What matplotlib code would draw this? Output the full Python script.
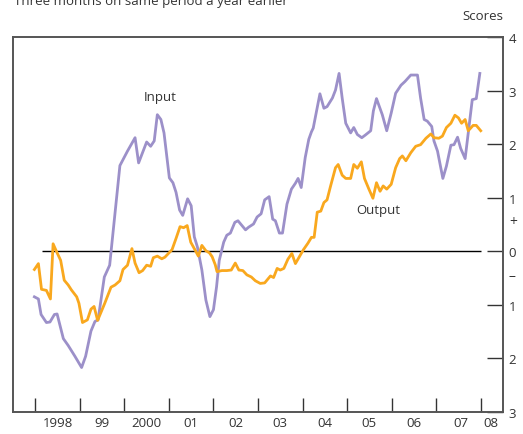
import matplotlib
matplotlib.use('Agg')
import matplotlib.pyplot as plt
import matplotlib.transforms as mtransforms

plt.rcParams['font.family'] = ['Open Sans', 'DejaVu Sans']

# Input series (decimal years, score)
input_t = [1997.98, 1998.07, 1998.13, 1998.25, 1998.33, 1998.43, 1998.49, 1998.63, 1998.74,
           1998.89, 1999.04, 1999.13, 1999.25, 1999.34, 1999.41, 1999.55, 1999.67, 1999.90,
           2000.07, 2000.24, 2000.32, 2000.50, 2000.59, 2000.67, 2000.74, 2000.82, 2000.89,
           2001.01, 2001.09, 2001.16, 2001.24, 2001.31, 2001.42, 2001.50, 2001.57, 2001.64,
           2001.74, 2001.83, 2001.92, 2002.00, 2002.07, 2002.13, 2002.23, 2002.30, 2002.38,
           2002.48, 2002.55, 2002.72, 2002.79, 2002.90, 2002.98, 2003.07, 2003.15, 2003.25,
           2003.33, 2003.39, 2003.48, 2003.55, 2003.65, 2003.75, 2003.84, 2003.90, 2003.97,
           2004.06, 2004.14, 2004.20, 2004.24, 2004.39, 2004.48, 2004.55, 2004.67, 2004.74,
           2004.82, 2004.89, 2004.97, 2005.08, 2005.15, 2005.23, 2005.33, 2005.41, 2005.53,
           2005.59, 2005.66, 2005.79, 2005.89, 2005.99, 2006.09, 2006.21, 2006.30, 2006.43,
           2006.58, 2006.65, 2006.73, 2006.80, 2006.90, 2006.95, 2007.03, 2007.15, 2007.23,
           2007.33, 2007.40, 2007.48, 2007.55, 2007.65, 2007.72, 2007.81, 2007.90, 2007.98]
input_v = [-0.85, -0.89, -1.18, -1.33, -1.32, -1.18, -1.17, -1.63, -1.76,
           -1.96, -2.17, -1.96, -1.49, -1.31, -1.28, -0.48, -0.26, 1.60,
           1.87, 2.12, 1.65, 2.04, 1.96, 2.06, 2.55, 2.46, 2.21,
           1.37, 1.28, 1.10, 0.77, 0.67, 0.98, 0.85, 0.27, 0.08,
           -0.35, -0.91, -1.22, -1.09, -0.66, -0.17, 0.17, 0.30, 0.34,
           0.54, 0.57, 0.40, 0.45, 0.51, 0.64, 0.70, 0.96, 1.02,
           0.60, 0.57, 0.34, 0.34, 0.88, 1.16, 1.27, 1.36, 1.19,
           1.75, 2.09, 2.23, 2.30, 2.94, 2.67, 2.70, 2.86, 3.01,
           3.32, 2.86, 2.39, 2.21, 2.31, 2.18, 2.12, 2.17, 2.25,
           2.62, 2.85, 2.55, 2.25, 2.58, 2.95, 3.10, 3.17, 3.29,
           3.29, 2.86, 2.46, 2.43, 2.33, 2.06, 1.87, 1.36, 1.59,
           1.98, 1.99, 2.13, 1.92, 1.73, 2.21, 2.83, 2.85, 3.32]

# Output series (decimal years, score)
output_t = [1997.98, 1998.07, 1998.14, 1998.25, 1998.34, 1998.40, 1998.48, 1998.57, 1998.65,
            1998.74, 1998.81, 1998.93, 1998.98, 1999.06, 1999.17, 1999.25, 1999.32, 1999.40,
            1999.47, 1999.56, 1999.70, 1999.79, 1999.90, 1999.97, 2000.07, 2000.17, 2000.24,
            2000.33, 2000.41, 2000.50, 2000.59, 2000.65, 2000.74, 2000.84, 2000.91, 2001.07,
            2001.16, 2001.25, 2001.33, 2001.41, 2001.49, 2001.59, 2001.66, 2001.74, 2001.83,
            2001.91, 2001.97, 2002.04, 2002.08, 2002.19, 2002.30, 2002.40, 2002.49, 2002.57,
            2002.66, 2002.75, 2002.85, 2002.94, 2003.05, 2003.15, 2003.28, 2003.35, 2003.43,
            2003.50, 2003.58, 2003.67, 2003.76, 2003.84, 2003.93, 2004.02, 2004.12, 2004.20,
            2004.26, 2004.33, 2004.41, 2004.48, 2004.55, 2004.63, 2004.74, 2004.80, 2004.89,
            2004.97, 2005.08, 2005.15, 2005.23, 2005.32, 2005.39, 2005.49, 2005.58, 2005.66,
            2005.74, 2005.81, 2005.89, 2005.99, 2006.09, 2006.18, 2006.24, 2006.32, 2006.43,
            2006.54, 2006.65, 2006.77, 2006.88, 2006.95, 2007.06, 2007.14, 2007.23, 2007.33,
            2007.42, 2007.50, 2007.57, 2007.65, 2007.72, 2007.83, 2007.90, 2008.00]
output_v = [-0.34, -0.23, -0.71, -0.73, -0.89, 0.14, -0.01, -0.17, -0.54,
            -0.63, -0.72, -0.85, -0.97, -1.33, -1.28, -1.08, -1.03, -1.29,
            -1.15, -0.97, -0.67, -0.63, -0.55, -0.34, -0.26, 0.05, -0.22,
            -0.40, -0.36, -0.26, -0.28, -0.12, -0.09, -0.14, -0.11, 0.03,
            0.24, 0.46, 0.44, 0.48, 0.17, 0.02, -0.09, 0.11, 0.01,
            -0.03, -0.10, -0.25, -0.38, -0.36, -0.36, -0.35, -0.22, -0.35,
            -0.36, -0.44, -0.48, -0.55, -0.60, -0.59, -0.46, -0.49, -0.32,
            -0.35, -0.32, -0.15, -0.04, -0.23, -0.10, 0.03, 0.15, 0.26,
            0.26, 0.73, 0.75, 0.91, 0.96, 1.22, 1.56, 1.62, 1.42,
            1.36, 1.36, 1.62, 1.55, 1.67, 1.36, 1.16, 0.99, 1.28,
            1.12, 1.22, 1.16, 1.25, 1.56, 1.73, 1.78, 1.69, 1.84,
            1.96, 1.99, 2.11, 2.19, 2.12, 2.11, 2.15, 2.31, 2.39,
            2.54, 2.49, 2.39, 2.46, 2.25, 2.35, 2.35, 2.25]

year_ticks = list(range(1998, 2009))
year_labels = ['1998', '99', '2000', '01', '02', '03', '04', '05', '06', '07', '08']
year_label_pos = [1998.5, 1999.5, 2000.5, 2001.5, 2002.5, 2003.5, 2004.5, 2005.5,
                  2006.5, 2007.55, 2008.22]
score_ticks = [-3, -2, -1, 0, 1, 2, 3, 4]

PURPLE = '#9c90c9'
ORANGE = '#f9a81e'
DARK = '#333333'

fig = plt.figure(figsize=(5.23, 4.35), dpi=100)
ax = fig.add_axes([13 / 523, 22 / 435, 490 / 523, 375 / 435])

ax.plot(input_t, input_v, color=PURPLE, lw=2.0, solid_joinstyle='round', zorder=3)
ax.plot(output_t, output_v, color=ORANGE, lw=2.0, solid_joinstyle='round', zorder=4)
ax.hlines(0, 1998.15, 2008.0, color='black', lw=1.0, zorder=2)

ax.set_xlim(1997.5, 2008.5)
ax.set_ylim(-3, 4)

for s in ax.spines.values():
    s.set_color('#555555')
    s.set_linewidth(1.4)

# x axis: year boundaries as ticks, labels in between
ax.set_xticks(year_ticks)
ax.set_xticklabels([])
ax.set_xticks(year_label_pos, minor=True)
ax.set_xticklabels(year_labels, minor=True)
ax.tick_params(axis='x', which='major', direction='in', length=10, width=1.0, color=DARK)
ax.tick_params(axis='x', which='minor', length=0, pad=3, labelsize=9.5, labelcolor=DARK)

# y axis on right
ax.yaxis.tick_right()
ax.set_yticks(score_ticks)
ax.set_yticklabels([str(abs(v)) for v in score_ticks])
ax.tick_params(axis='y', direction='in', length=11.5, width=1.0, color=DARK,
               pad=4, labelsize=9.5, labelcolor=DARK)

trans = mtransforms.blended_transform_factory(ax.transAxes, ax.transData)
ax.text(1.012, 0.55, '+', transform=trans, ha='left', va='center', fontsize=10, color=DARK)
ax.text(1.012, -0.45, '\u2013', transform=trans, ha='left', va='center', fontsize=10, color=DARK)

ax.text(2000.8, 2.88, 'Input', ha='center', va='center', fontsize=9.5, color=DARK)
ax.text(2005.7, 0.78, 'Output', ha='center', va='center', fontsize=9.5, color=DARK)

fig.text(503 / 523, 1 - 17 / 435, 'Scores', ha='right', va='center', fontsize=9.5, color=DARK)
fig.text(14 / 523, 1 - 5 / 435, 'Three months on same period a year earlier',
         ha='left', va='baseline', fontsize=9.5, color=DARK)

fig.savefig('out.png', dpi=100)
